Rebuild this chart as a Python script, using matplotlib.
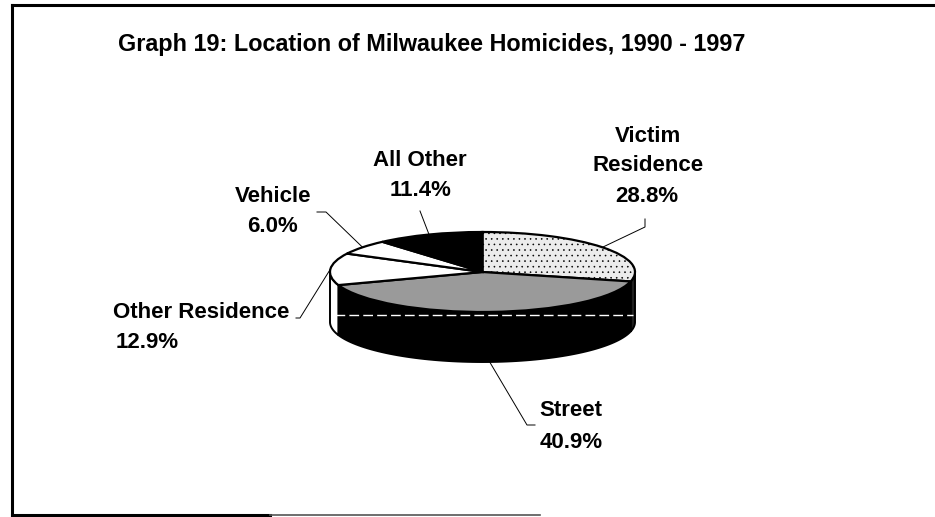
import numpy as np
import matplotlib
matplotlib.use("Agg")
import matplotlib.pyplot as plt
from matplotlib.patches import Polygon

# ---------------- data ----------------
title = "Graph 19: Location of Milwaukee Homicides, 1990 - 1997"
categories = ["Victim Residence", "Street", "Other Residence", "Vehicle", "All Other"]
label_text = ["Victim\nResidence", "Street", "Other Residence", "Vehicle", "All Other"]
percentages = [28.8, 40.9, 12.9, 6.0, 11.4]

# ---------------- styles ----------------
top_colors = ["#ececec", "#9a9a9a", "white", "white", "black"]
side_colors = ["#202020", "black", "white", "white", "black"]

plt.rcParams["font.family"] = ["Liberation Sans", "DejaVu Sans"]
plt.rcParams["hatch.linewidth"] = 0.4

W, H = 935, 517
fig = plt.figure(figsize=(W / 100, H / 100), dpi=100)
fig.patch.set_facecolor("white")

# overlay axes in pixel coordinates (for text / frame)
ov = fig.add_axes([0, 0, 1, 1], zorder=3)
ov.set_xlim(0, W)
ov.set_ylim(H, 0)
ov.axis("off")
ov.patch.set_alpha(0)

# pie geometry (pixels)
cx, cy, rx, ry, depth = 482.5, 272.0, 152.5, 40.0, 50.0
d = depth / ry
xmin, xmax, ymin, ymax = -1.1, 1.1, -1 - d - 0.1, 1.1
left = (cx + rx * xmin) / W
right = (cx + rx * xmax) / W
top_px = cy - ry * ymax
bot_px = cy - ry * ymin
ax = fig.add_axes([left, (H - bot_px) / H, right - left, (bot_px - top_px) / H], zorder=2)

wedges, _ = ax.pie(percentages, colors=top_colors, startangle=90, counterclock=False,
                   wedgeprops=dict(edgecolor="black", linewidth=1.6))
ax.set_aspect("auto")
ax.set_xlim(xmin, xmax)
ax.set_ylim(ymin, ymax)
ax.axis("off")
wedges[0].set_hatch("...")
for w in wedges:
    w.set_zorder(3)
    w.set_clip_on(False)

# side walls for the front half of the pie
for w, sc in zip(wedges, side_colors):
    t1, t2 = w.theta1, w.theta2
    for lo, hi in [(-180, 0), (180, 360), (-540, -360)]:
        a, b = max(t1, lo), min(t2, hi)
        if b > a:
            t = np.radians(np.linspace(a, b, 80))
            xs, ys = np.cos(t), np.sin(t)
            pts = np.column_stack([np.r_[xs, xs[::-1]], np.r_[ys, (ys - d)[::-1]]])
            ax.add_patch(Polygon(pts, closed=True, facecolor=sc, edgecolor="black",
                                 linewidth=1.4, zorder=2, clip_on=False))

# white dashed streak across the side
ax.plot([-0.97, 0.99], [-1.075, -1.075], color="white", lw=1.0, dashes=(7, 3), zorder=2.5)

# ---------------- labels & leaders ----------------
def pie_to_px(X, Y):
    disp = ax.transData.transform((X, Y))
    return ov.transData.inverted().transform(disp)

mids = [np.radians((w.theta1 + w.theta2) / 2) for w in wedges]
anchors = []
for i, m in enumerate(mids):
    X, Y = np.cos(m), np.sin(m)
    if Y < 0:
        Y = Y - d
    anchors.append(pie_to_px(X, Y))

label_pos = [(648, 151), (571, 411), (201, 312), (273, 196), (420, 160)]
pct_pos = [(647, 197), (571, 443), (147, 342), (272, 226), (421, 190)]
leader_pts = [
    [(645, 227), (645, 219)],
    [(527, 425), (535, 425)],
    [(300, 318), (296, 318)],
    [(326, 212), (317, 212)],
    [(420, 211)],
]
fs = 16
for i in range(len(categories)):
    ov.text(*label_pos[i], label_text[i], ha="center", va="center", fontsize=fs,
            fontweight="bold", linespacing=1.55)
    ov.text(*pct_pos[i], f"{percentages[i]:.1f}%", ha="center", va="center",
            fontsize=fs, fontweight="bold")
    pts = [tuple(anchors[i])] + leader_pts[i]
    ov.plot([p[0] for p in pts], [p[1] for p in pts], color="black", lw=0.7)

ov.text(432, 45, title, ha="center", va="center", fontsize=16.8, fontweight="bold")

# frame
ov.plot([12, 12], [5, 515], color="black", lw=2.2)
ov.plot([12, 935], [5, 5], color="black", lw=2.2)
ov.plot([12, 270], [515, 515], color="black", lw=2.2)
ov.plot([270, 540], [515, 515], color="#555555", lw=1.2)

fig.savefig("out.png", dpi=100, facecolor="white")
